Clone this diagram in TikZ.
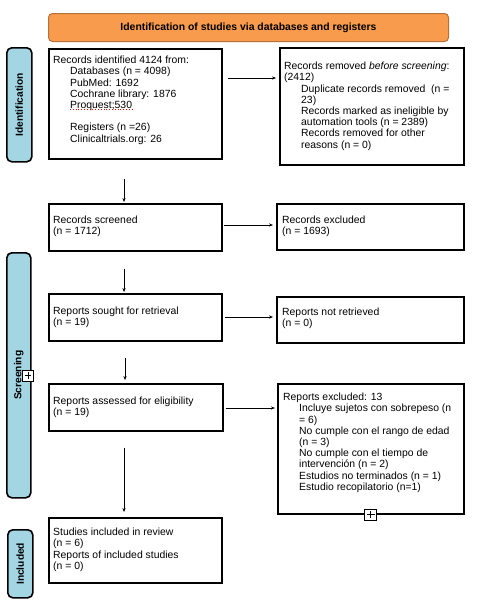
\documentclass[tikz,border=0pt]{standalone}
\usepackage{fontspec}
\setmainfont{Liberation Sans}
\usetikzlibrary{arrows.meta,calc}
\definecolor{hdrorange}{HTML}{F89B4C}
\definecolor{hdrborder}{HTML}{B8703A}
\definecolor{sideblue}{HTML}{A3D5E3}
\begin{document}
\begin{tikzpicture}[x=1pt,y=-1pt,
  box/.style={draw=black,line width=1.6pt,anchor=north west,inner sep=0,fill=white},
  txt/.style={anchor=north west,inner sep=0,align=left,font=\fontsize{10.4}{11.2}\selectfont},
  side/.style={draw=black,line width=1.6pt,fill=sideblue,rounded corners=5pt,anchor=north west,inner sep=0},
  sidetxt/.style={rotate=90,inner sep=0,font=\bfseries\fontsize{10.2}{11}\selectfont},
  arr/.style={-{Stealth[length=4pt,width=3.2pt]},line width=0.7pt},
  plusbox/.style={draw=black,line width=0.8pt,fill=white,minimum width=12pt,minimum height=11pt,inner sep=0}]
\useasboundingbox (0,0) rectangle (500,600);
\fill[white] (0,0) rectangle (500,600);

% header
\node[draw=hdrborder,line width=1pt,fill=hdrorange,rounded corners=4pt,anchor=north west,inner sep=0,
  minimum width=400pt,minimum height=28pt] (hdr) at (48,13) {};
\node[inner sep=0,font=\bfseries\fontsize{10.4}{11}\selectfont] (hdrt) at (hdr.center) {Identification of studies via databases and registers};

% side labels
\node[side,minimum width=25pt,minimum height=114pt] (s1) at (6,47) {};
\node[sidetxt] (s1t) at (s1.center) {Identification};
\node[side,minimum width=24pt,minimum height=245pt] (s2) at (6,252) {};
\node[sidetxt] (s2t) at (s2.center) {Screening};
\node[side,minimum width=25pt,minimum height=68pt] (s3) at (7,529) {};
\node[sidetxt] (s3t) at (s3.center) {Included};

% boxes
\node[box,minimum width=173pt,minimum height=110pt] (b1) at (48,48) {};
\node[box,minimum width=184pt,minimum height=117pt] (b2) at (279,47) {};
\node[box,minimum width=173pt,minimum height=47pt] (b3) at (48,203) {};
\node[box,minimum width=187pt,minimum height=46pt] (b4) at (276,203) {};
\node[box,minimum width=173pt,minimum height=47pt] (b5) at (48,293) {};
\node[box,minimum width=187pt,minimum height=46pt] (b6) at (276,296) {};
\node[box,minimum width=174pt,minimum height=47pt] (b7) at (48,383) {};
\node[box,minimum width=186pt,minimum height=130pt] (b8) at (277,383) {};
\node[box,minimum width=173pt,minimum height=65pt] (b9) at (48,517) {};

% texts
\node[txt] (t1) at (53,56) {Records identified 4124 from:\\
\hspace*{17pt}Databases (n = 4098)\\
\hspace*{17pt}PubMed: 1692\\
\hspace*{17pt}Cochrane library: 1876\\
\hspace*{17pt}Proquest;530\\[11.2pt]
\hspace*{17pt}Registers (n =26)\\
\hspace*{17pt}Clinicaltrials.org: 26};
\draw[red,line width=0.8pt,dotted] ($(b1.north west)+(22,61)$) -- ($(b1.north west)+(85,61)$);

\node[txt] (t2) at (284,62) {Records removed \textit{before screening}:\\
(2412)\\
\hspace*{17pt}Duplicate records removed\ \ (n =\\
\hspace*{17pt}23)\\
\hspace*{17pt}Records marked as ineligible by\\
\hspace*{17pt}automation tools (n = 2389)\\
\hspace*{17pt}Records removed for other\\
\hspace*{17pt}reasons (n = 0)};

\node[txt] (t3) at (53,216) {Records screened\\(n = 1712)};
\node[txt] (t4) at (282,216) {Records excluded\\(n = 1693)};
\node[txt] (t5) at (53,307) {Reports sought for retrieval\\(n = 19)};
\node[txt] (t6) at (282,308) {Reports not retrieved\\(n = 0)};
\node[txt] (t7) at (53,397) {Reports assessed for eligibility\\(n = 19)};
\node[txt] (t8) at (283,393) {Reports excluded: 13\\
\hspace*{16pt}Incluye sujetos con sobrepeso (n\\
\hspace*{16pt}= 6)\\
\hspace*{16pt}No cumple con el rango de edad\\
\hspace*{16pt}(n = 3)\\
\hspace*{16pt}No cumple con el tiempo de\\
\hspace*{16pt}intervención (n = 2)\\
\hspace*{16pt}Estudios no terminados (n = 1)\\
\hspace*{16pt}Estudio recopilatorio (n=1)};
\node[txt] (t9) at (53,528) {Studies included in review\\(n = 6)\\Reports of included studies\\(n = 0)};

% horizontal arrows
\draw[arr] ($(b1.north east)+(5,30)$) -- ($(b2.north west)+(-3,31)$);
\draw[arr] ($(b3.north east)+(1,22)$) -- ($(b4.north west)+(-3,22)$);
\draw[arr] ($(b5.north east)+(2,24)$) -- ($(b6.north west)+(-3,21)$);
\draw[arr] ($(b7.north east)+(2,25)$) -- ($(b8.north west)+(-2,25)$);

% vertical arrows
\draw[arr] ($(b1.south west)+(76,19)$) -- ($(b3.north west)+(76,-1)$);
\draw[arr] ($(b3.south west)+(76,17)$) -- ($(b5.north west)+(76,-1)$);
\draw[arr] ($(b5.south west)+(77,16)$) -- ($(b7.north west)+(77,-3)$);
\draw[arr] ($(b7.south west)+(76,16)$) -- ($(b9.north west)+(76,-5)$);

% plus boxes
\node[plusbox,minimum width=11pt] (p1) at (28,375.5) {};
\draw[line width=0.8pt,shorten >=2.5pt,shorten <=2.5pt] (p1.north) -- (p1.south);
\draw[line width=0.8pt,shorten >=2.5pt,shorten <=2.5pt] (p1.west) -- (p1.east);
\node[plusbox] (p2) at (b8.south) {};
\draw[line width=0.8pt,shorten >=2.5pt,shorten <=2.5pt] (p2.north) -- (p2.south);
\draw[line width=0.8pt,shorten >=2.5pt,shorten <=2.5pt] (p2.west) -- (p2.east);
\end{tikzpicture}
\end{document}
